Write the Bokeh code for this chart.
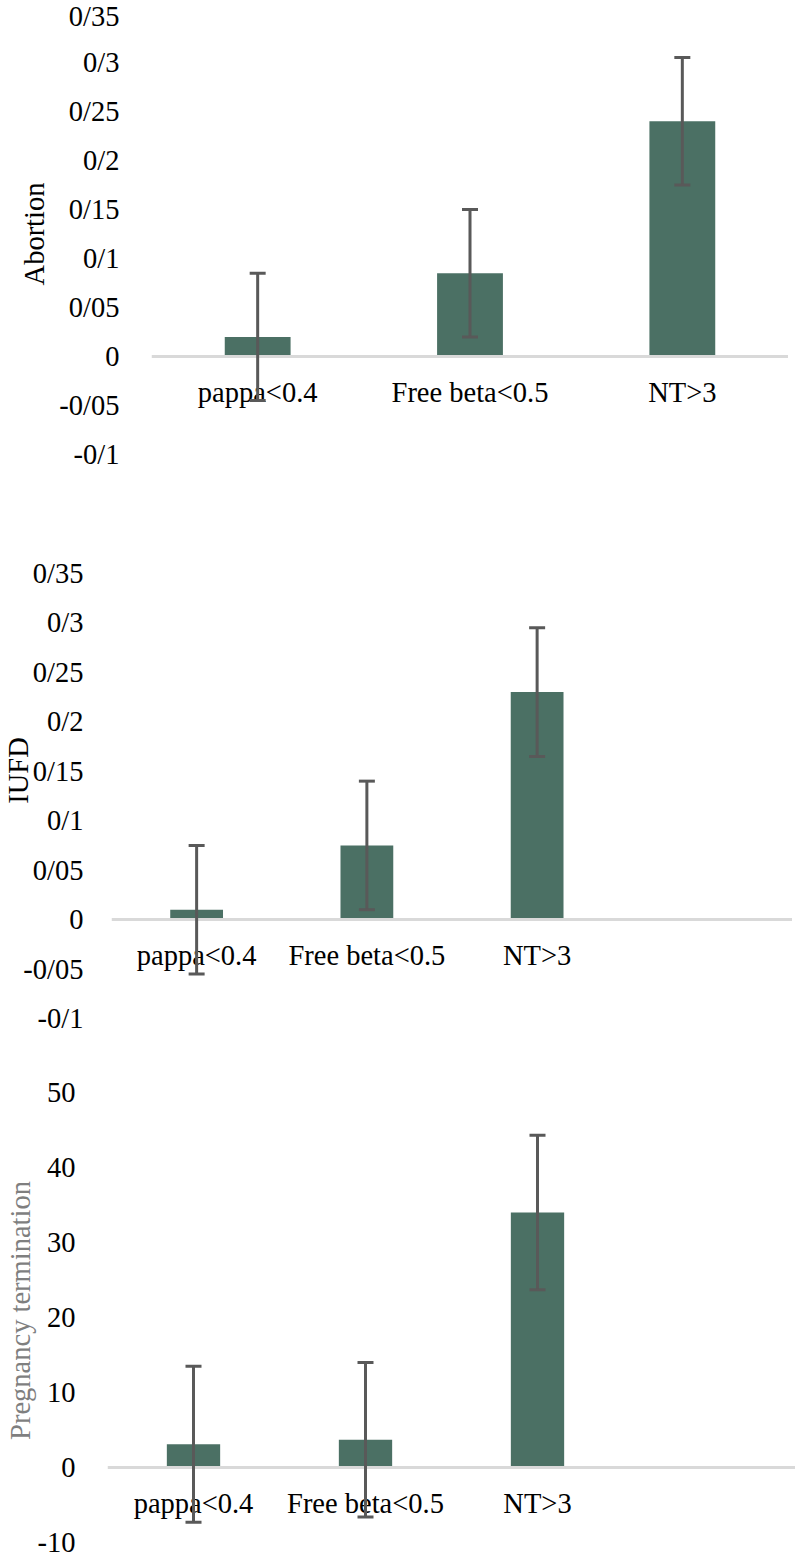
from bokeh.plotting import figure
from bokeh.layouts import column
from bokeh.models import FixedTicker, Whisker, ColumnDataSource, TeeHead
from bokeh.embed import file_html
from bokeh.resources import INLINE

# ---- data ----
cats1 = ["pappa<0.4", "Free beta<0.5", "NT>3"]
abortion = [0.02, 0.085, 0.24]
abortion_err = [0.065, 0.065, 0.065]

cats2 = ["pappa<0.4", "Free beta<0.5", "NT>3", " "]
iufd = [0.01, 0.075, 0.23]
iufd_err = [0.065, 0.065, 0.065]

cats3 = ["pappa<0.4", "Free beta<0.5", "NT>3", " "]
termination = [3.1, 3.7, 34.0]
termination_err = [10.4, 10.3, 10.3]

ticks_frac = [-0.1, -0.05, 0, 0.05, 0.1, 0.15, 0.2, 0.25, 0.3, 0.35]
tick_labels_frac = ["-0/1", "-0/05", "0", "0/05", "0/1", "0/15", "0/2", "0/25", "0/3", "0/35"]
ticks_int = [-10, 0, 10, 20, 30, 40, 50]
tick_labels_int = ["-10", "0", "10", "20", "30", "40", "50"]

BAR = "#4b7064"
ERR = "#595959"
FONT = "Liberation Serif"
FS = "28.5px"


def make(cats, vals, errs, ymin, ymax, ticks, labels, title, title_color,
         w, h, bl, bt, bb, tick_standoff, title_standoff):
    p = figure(x_range=cats, y_range=(ymin, ymax), width=w, height=h,
               output_backend="svg", toolbar_location=None,
               min_border_left=bl, min_border_right=0,
               min_border_top=bt, min_border_bottom=bb)
    p.frame_align = False
    p.outline_line_color = None
    p.xgrid.visible = False
    p.ygrid.visible = False
    src = ColumnDataSource(dict(
        x=cats[:len(vals)], top=vals,
        upper=[v + e for v, e in zip(vals, errs)],
        lower=[v - e for v, e in zip(vals, errs)]))
    p.vbar(x="x", top="top", bottom=0, width=0.31, source=src,
           fill_color=BAR, line_color=None)
    wh = Whisker(base="x", upper="upper", lower="lower", source=src,
                 line_color=ERR, line_width=3, level="overlay",
                 upper_head=TeeHead(size=16, line_color=ERR, line_width=3),
                 lower_head=TeeHead(size=16, line_color=ERR, line_width=3))
    p.add_layout(wh)

    xa = p.xaxis[0]
    xa.fixed_location = 0
    xa.axis_line_color = "#d9d9d9"
    xa.axis_line_width = 3
    xa.major_tick_line_color = None
    xa.minor_tick_line_color = None
    xa.major_label_standoff = 14
    xa.major_label_text_font = FONT
    xa.major_label_text_font_size = FS
    xa.major_label_text_color = "#000000"

    ya = p.yaxis[0]
    ya.ticker = FixedTicker(ticks=ticks)
    ya.major_label_overrides = {t: l for t, l in zip(ticks, labels)}
    ya.axis_line_color = None
    ya.major_tick_line_color = None
    ya.minor_tick_line_color = None
    ya.major_label_standoff = tick_standoff
    ya.major_label_text_font = FONT
    ya.major_label_text_font_size = FS
    ya.major_label_text_color = "#000000"
    ya.axis_label = title
    ya.axis_label_text_font = FONT
    ya.axis_label_text_font_size = FS
    ya.axis_label_text_font_style = "normal"
    ya.axis_label_text_color = title_color
    ya.axis_label_standoff = title_standoff
    return p


p1 = make(cats1, abortion, abortion_err, -0.1, 0.35, ticks_frac, tick_labels_frac,
          "Abortion", "#000000", 788, 522, 151, 13, 68, 26, 6)
p2 = make(cats2, iufd, iufd_err, -0.1, 0.4015, ticks_frac, tick_labels_frac,
          "IUFD", "#000000", 792, 538, 111, 0, 42, 22, -14)
p3 = make(cats3, termination, termination_err, -10, 51.87, ticks_int, tick_labels_int,
          "Pregnancy termination", "#7f7f7f", 795, 500, 107, 18, 18, 26, -1)

layout = column(p1, p2, p3, spacing=0)
open("out.html", "w").write(file_html(layout, INLINE))
